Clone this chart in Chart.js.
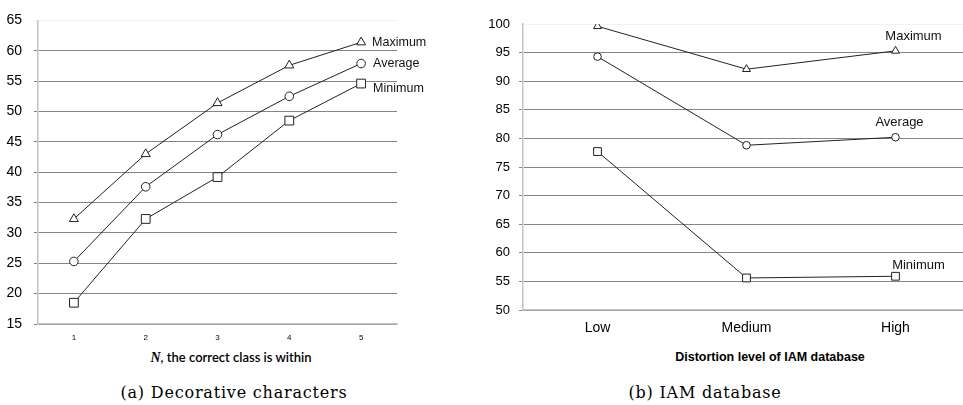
<!DOCTYPE html>
<html>
<head>
<meta charset="utf-8">
<script src="https://cdn.jsdelivr.net/npm/chart.js@4.4.1/dist/chart.umd.min.js"></script>
<style>
  body { margin: 0; background: #fff; width: 963px; height: 405px; position: relative; overflow: hidden; }
  .panel { position: absolute; top: 0; height: 345px; overflow: hidden; }
  #panelA { left: 0; width: 480px; }
  #panelB { left: 480px; width: 483px; }
  .txt { position: absolute; white-space: nowrap; transform: translate(-50%, -50%); color: #000; }
  #titleA { left: 231px; top: 357px; font: 600 13px Lato, sans-serif; }
  #titleA i { font-family: "Liberation Serif", serif; font-size: 14px; }
  #titleB { left: 770px; top: 357px; font: bold 12.5px "Liberation Sans", sans-serif; }
  .cap { top: 392px; font: 16px "DejaVu Serif", serif; letter-spacing: 0.8px; }
  #capA { left: 234px; }
  #capB { left: 705px; }
</style>
</head>
<body>
<div id="panelA" class="panel"><canvas id="chartA" width="480" height="345"></canvas></div>
<div id="panelB" class="panel"><canvas id="chartB" width="500" height="345"></canvas></div>
<div id="titleA" class="txt"><i>N</i>, the correct class is within</div>
<div id="titleB" class="txt">Distortion level of IAM database</div>
<div id="capA" class="txt cap">(a) Decorative characters</div>
<div id="capB" class="txt cap">(b) IAM database</div>
<script>
// (a) decorative characters
const nLabels = ['1', '2', '3', '4', '5']
const decoMax = [32.3, 43.0, 51.4, 57.6, 61.4]
const decoAvg = [25.3, 37.6, 46.2, 52.5, 57.9]
const decoMin = [18.5, 32.3, 39.2, 48.5, 54.6]

// (b) IAM database
const levelLabels = ['Low', 'Medium', 'High']
const iamMax = [99.6, 92.1, 95.3]
const iamAvg = [94.3, 78.8, 80.2]
const iamMin = [77.7, 55.6, 55.9]

const seriesNames = ['Maximum', 'Average', 'Minimum']
const markers = ['triangle', 'circle', 'rect']

// writes the series name next to the last point of each line
const endLabels = {
    id: 'endLabels',
    afterDatasetsDraw(chart, args, opts) {
        const ctx = chart.ctx
        ctx.save()
        ctx.font = opts.font
        ctx.fillStyle = '#111'
        ctx.textBaseline = 'middle'
        ctx.textAlign = opts.align
        chart.data.datasets.forEach((ds, i) => {
            const pts = chart.getDatasetMeta(i).data
            const p = pts[pts.length - 1]
            const off = opts.offsets[i]
            ctx.fillText(ds.label, p.x + off[0], p.y + off[1])
        })
        ctx.restore()
    }
}

const makeDatasets = (values, radii) => values.map((v, i) => ({
    label: seriesNames[i],
    data: v,
    borderColor: '#222',
    borderWidth: 1,
    pointStyle: markers[i],
    pointRadius: radii[i],
    pointBackgroundColor: '#fff',
    pointBorderColor: '#222',
    pointBorderWidth: 1,
    tension: 0
}))

const makeConfig = (labels, values, yMin, yMax, s) => ({
    type: 'line',
    data: { labels: labels, datasets: makeDatasets(values, s.radii) },
    options: {
        responsive: false,
        animation: false,
        devicePixelRatio: 1,
        layout: { padding: s.padding },
        plugins: {
            legend: { display: false },
            tooltip: { enabled: false },
            endLabels: s.endLabels
        },
        scales: {
            x: {
                offset: true,
                grid: { display: false, drawTicks: false },
                border: { display: true, color: '#c4c4c4', width: 1.5 },
                ticks: { color: '#000', font: s.xFont, padding: s.xPad, maxRotation: 0 },
                afterFit: scale => { scale.height = s.xHeight }
            },
            y: {
                min: yMin,
                max: yMax,
                grid: {
                    color: c => c.tick.value === yMax ? '#f2f2f2' : '#858585',
                    lineWidth: 1,
                    tickLength: 4
                },
                border: { display: true, color: '#c4c4c4', width: 1.5 },
                ticks: { stepSize: 5, color: '#000', font: s.yFont, padding: s.yPad },
                afterFit: scale => { scale.width = s.yWidth }
            }
        }
    },
    plugins: [endLabels]
})

new Chart(document.getElementById('chartA'), makeConfig(nLabels, [decoMax, decoAvg, decoMin], 15, 65, {
    padding: { top: 10, right: 83, left: 0, bottom: 0 },
    radii: [5.2, 4.3, 6.2],
    xFont: { family: 'Liberation Sans', size: 8 },
    xPad: 9,
    xHeight: 21,
    yFont: { family: 'Liberation Sans', size: 14 },
    yPad: 12,
    yWidth: 38,
    endLabels: {
        font: '12.5px "Liberation Sans", sans-serif',
        align: 'left',
        offsets: [[11, 0], [12, 0], [12, 5]]
    }
}))

new Chart(document.getElementById('chartB'), makeConfig(levelLabels, [iamMax, iamAvg, iamMin], 50, 100, {
    padding: { top: 24, right: 10, left: 0, bottom: 0 },
    radii: [4.6, 3.8, 5.5],
    xFont: { family: 'Liberation Sans', size: 14 },
    xPad: 10,
    xHeight: 35,
    yFont: { family: 'Liberation Sans', size: 13 },
    yPad: 9,
    yWidth: 43,
    endLabels: {
        font: '13px "Liberation Sans", sans-serif',
        align: 'center',
        offsets: [[18, -14], [4, -15], [23, -11]]
    }
}))
</script>
</body>
</html>
